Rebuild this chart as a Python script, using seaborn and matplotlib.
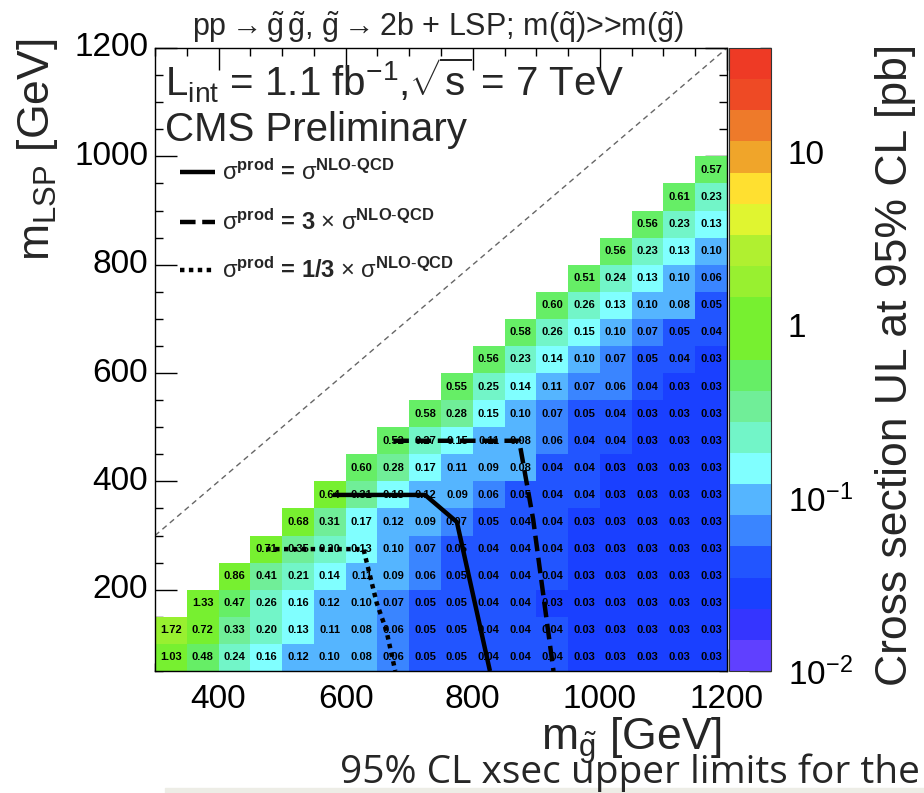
import numpy as np
import pandas as pd
import matplotlib
matplotlib.use('Agg')
import matplotlib.pyplot as plt
import matplotlib.ticker as mticker
from matplotlib.colors import ListedColormap, LogNorm
from matplotlib.patches import Rectangle
import seaborn as sns

sns.set_theme(style='white')
plt.rcParams['font.family'] = ['Liberation Sans', 'DejaVu Sans']
plt.rcParams['mathtext.fontset'] = 'custom'
plt.rcParams['mathtext.rm'] = 'Liberation Sans'
plt.rcParams['mathtext.it'] = 'Liberation Sans:italic'
plt.rcParams['mathtext.bf'] = 'Liberation Sans:bold'
plt.rcParams['mathtext.sf'] = 'Liberation Sans'

# ---------------- data ----------------
m_gluino = [325, 375, 425, 475, 525, 575, 625, 675, 725, 775, 825, 875, 925, 975, 1025, 1075, 1125, 1175]
m_lsp = [75, 125, 175, 225, 275, 325, 375, 425, 475, 525, 575, 625, 675, 725, 775, 825, 875, 925, 975]

# upper limits per LSP row (right-aligned: last value is m_gluino = 1175)
ul_lsp75 = [1.03, 0.48, 0.24, 0.16, 0.12, 0.10, 0.08, 0.06, 0.05, 0.05, 0.04, 0.04, 0.04, 0.03, 0.03, 0.03, 0.03, 0.03]
ul_lsp125 = [1.72, 0.72, 0.33, 0.20, 0.13, 0.11, 0.08, 0.06, 0.05, 0.05, 0.04, 0.04, 0.04, 0.03, 0.03, 0.03, 0.03, 0.03]
ul_lsp175 = [1.33, 0.47, 0.26, 0.16, 0.12, 0.10, 0.07, 0.05, 0.05, 0.04, 0.04, 0.03, 0.03, 0.03, 0.03, 0.03, 0.03]
ul_lsp225 = [0.86, 0.41, 0.21, 0.14, 0.11, 0.09, 0.06, 0.05, 0.04, 0.04, 0.04, 0.03, 0.03, 0.03, 0.03, 0.03]
ul_lsp275 = [0.71, 0.35, 0.20, 0.13, 0.10, 0.07, 0.05, 0.04, 0.04, 0.04, 0.03, 0.03, 0.03, 0.03, 0.03]
ul_lsp325 = [0.68, 0.31, 0.17, 0.12, 0.09, 0.07, 0.05, 0.04, 0.04, 0.03, 0.03, 0.03, 0.03, 0.03]
ul_lsp375 = [0.64, 0.31, 0.18, 0.12, 0.09, 0.06, 0.05, 0.04, 0.04, 0.03, 0.03, 0.03, 0.03]
ul_lsp425 = [0.60, 0.28, 0.17, 0.11, 0.09, 0.08, 0.04, 0.04, 0.03, 0.03, 0.03, 0.03]
ul_lsp475 = [0.52, 0.27, 0.15, 0.11, 0.08, 0.06, 0.04, 0.04, 0.03, 0.03, 0.03]
ul_lsp525 = [0.58, 0.28, 0.15, 0.10, 0.07, 0.05, 0.04, 0.03, 0.03, 0.03]
ul_lsp575 = [0.55, 0.25, 0.14, 0.11, 0.07, 0.06, 0.04, 0.03, 0.03]
ul_lsp625 = [0.56, 0.23, 0.14, 0.10, 0.07, 0.05, 0.04, 0.03]
ul_lsp675 = [0.58, 0.26, 0.15, 0.10, 0.07, 0.05, 0.04]
ul_lsp725 = [0.60, 0.26, 0.13, 0.10, 0.08, 0.05]
ul_lsp775 = [0.51, 0.24, 0.13, 0.10, 0.06]
ul_lsp825 = [0.56, 0.23, 0.13, 0.10]
ul_lsp875 = [0.56, 0.23, 0.13]
ul_lsp925 = [0.61, 0.23]
ul_lsp975 = [0.57]

ul_rows = [ul_lsp75, ul_lsp125, ul_lsp175, ul_lsp225, ul_lsp275, ul_lsp325, ul_lsp375,
           ul_lsp425, ul_lsp475, ul_lsp525, ul_lsp575, ul_lsp625, ul_lsp675, ul_lsp725,
           ul_lsp775, ul_lsp825, ul_lsp875, ul_lsp925, ul_lsp975]

# exclusion contours (GeV)
nlo_x = [580, 725, 775, 827]
nlo_y = [375, 375, 325, 50]
x3_x = [675, 873, 895, 927]
x3_y = [475, 475, 330, 50]
third_x = [475, 628, 649, 664, 678]
third_y = [275, 275, 175, 125, 50]

x_tick_vals = [400, 600, 800, 1000, 1200]
y_tick_vals = [200, 400, 600, 800, 1000, 1200]
cbar_tick_vals = [0.01, 0.1, 1, 10]
cbar_tick_labels = [r'$10^{-2}$', r'$10^{-1}$', '1', '10']

palette = ['#6040FF', '#3535FF', '#1A40FF', '#2255FF', '#3A85FF', '#55B5FF', '#80FFFF',
           '#72F5C8', '#70EE98', '#66EE66', '#77F030', '#77F030', '#98F030', '#B0F030',
           '#E0F530', '#FFE030', '#F0A52A', '#EE7A2A', '#EE4A25', '#EE3A25']

# ---------------- table ----------------
n_x = len(m_gluino)
Z = np.full((len(m_lsp), n_x), np.nan)
for i, row in enumerate(ul_rows):
    Z[i, n_x - len(row):] = row
df = pd.DataFrame(Z, index=m_lsp, columns=m_gluino)

X0, Y0, STEP = 300.0, 50.0, 50.0
def gx(v):
    return (np.asarray(v, dtype=float) - X0) / STEP
def gy(v):
    return (np.asarray(v, dtype=float) - Y0) / STEP

W, H = 924, 793
fig = plt.figure(figsize=(W / 100, H / 100), dpi=100)
fig.patch.set_facecolor('white')
ax = fig.add_axes([155 / W, 1 - 671 / H, (727 - 155) / W, (671 - 48) / H])
cax = fig.add_axes([729 / W, 1 - 671 / H, 42 / W, (671 - 48) / H])

cmap = ListedColormap(palette)
norm = LogNorm(vmin=0.01, vmax=40)

sns.heatmap(df, ax=ax, cbar_ax=cax, cmap=cmap, norm=norm, annot=True, fmt='.2f',
            annot_kws=dict(fontsize=8, fontweight='bold', color='black'),
            linewidths=0)

ax.set_facecolor('white')
ax.set_xlim(0, gx(1200))
ax.set_ylim(0, gy(1200))
ax.set_xlabel('')
ax.set_ylabel('')
for s in ax.spines.values():
    s.set_visible(True)
    s.set_color('black')
    s.set_linewidth(1.0)

ax.set_xticks(gx(x_tick_vals))
ax.set_xticklabels([str(v) for v in x_tick_vals], rotation=0)
ax.set_yticks(gy(y_tick_vals))
ax.set_yticklabels([str(v) for v in y_tick_vals], rotation=0)
ax.xaxis.set_minor_locator(mticker.MultipleLocator(1))
ax.yaxis.set_minor_locator(mticker.MultipleLocator(1))
ax.tick_params(which='both', direction='in', top=True, right=True, bottom=True, left=True,
               colors='black', labelsize=24)
ax.tick_params(which='major', length=16, width=1)
ax.tick_params(which='minor', length=6, width=1)
ax.tick_params(axis='x', pad=9)
ax.tick_params(axis='y', pad=5)

# diagonal
ax.plot(gx([300, 1200]), gy([300, 1200]), color='#666666', lw=1, ls=(0, (4, 3)))

# contours
ax.plot(gx(nlo_x), gy(nlo_y), color='black', lw=3.2, solid_capstyle='butt')
ax.plot(gx(x3_x), gy(x3_y), color='black', lw=3.2, ls=(0, (3.5, 1.5)))
ax.plot(gx(third_x), gy(third_y), color='black', lw=3.2, ls=(0, (1, 1)))

# colorbar
cb = ax.collections[0].colorbar
cb.outline.set_visible(True)
cb.outline.set_linewidth(0.8)
cb.outline.set_edgecolor('#333333')
cb.set_ticks(cbar_tick_vals)
cb.set_ticklabels(cbar_tick_labels)
cax.yaxis.set_minor_locator(mticker.LogLocator(base=10, subs=np.arange(2, 10), numticks=20))
cax.yaxis.set_minor_formatter(mticker.NullFormatter())
cax.tick_params(which='both', direction='in', right=True, left=False, colors='black', labelsize=24, pad=12)
cax.tick_params(which='major', length=16, width=1)
cax.tick_params(which='minor', length=8, width=1)

# texts
fig.text(438 / W, 1 - 27 / H,
         r'pp$\rightarrow\tilde{\mathrm{g}}\,\tilde{\mathrm{g}}$, $\tilde{\mathrm{g}}\rightarrow$2b + LSP; m($\tilde{\mathrm{q}}$)>>m($\tilde{\mathrm{g}}$)',
         ha='center', va='center', fontsize=22)
fig.text(165 / W, 1 - 96 / H, r'L$_{\mathrm{int}}$ = 1.1 fb$^{\mathrm{-1}}$,$\sqrt{\mathrm{s}}$ = 7 TeV',
         ha='left', va='baseline', fontsize=29)
fig.text(165 / W, 1 - 141 / H, 'CMS Preliminary', ha='left', va='baseline', fontsize=29)

leg_y = [172, 222, 270]
leg_styles = ['-', (0, (3.5, 1.5)), (0, (1, 1))]
leg_texts = [r'$\mathrm{σ}^{\mathbf{prod}}$ = $\mathrm{σ}^{\mathbf{NLO\text{-}QCD}}$',
             r'$\mathrm{σ}^{\mathbf{prod}}$ = 3 $\times$ $\mathrm{σ}^{\mathbf{NLO\text{-}QCD}}$',
             r'$\mathrm{σ}^{\mathbf{prod}}$ = 1/3 $\times$ $\mathrm{σ}^{\mathbf{NLO\text{-}QCD}}$']
for py, st, tx in zip(leg_y, leg_styles, leg_texts):
    fy = (671 - py) / 623
    ax.plot([(180 - 155) / 572, (215 - 155) / 572], [fy, fy], transform=ax.transAxes,
            color='black', lw=3.2, ls=st, solid_capstyle='butt')
    ax.text((222 - 155) / 572, fy, tx, transform=ax.transAxes, ha='left', va='center',
            fontsize=17, fontweight='bold')

fig.text(38 / W, 1 - 150 / H, r'm$_{\mathrm{LSP}}$ [GeV]', rotation=90, ha='center', va='center', fontsize=32)
fig.text(722 / W, 1 - 750 / H, r'm$_{\tilde{\mathrm{g}}}$ [GeV]', ha='right', va='baseline', fontsize=32)
fig.text(895 / W, 1 - 365 / H, 'Cross section UL at 95% CL [pb]', rotation=90, ha='center', va='center', fontsize=32)

fig.patches.append(Rectangle((165 / W, 0), 1, 5 / H, transform=fig.transFigure, color='#EDEDE6', zorder=0))
fig.text(340 / W, 1 - 783 / H, '95% CL xsec upper limits for the', ha='left', va='baseline',
         fontsize=28, family=['Open Sans', 'DejaVu Sans'])

fig.savefig('out.png', dpi=100)
